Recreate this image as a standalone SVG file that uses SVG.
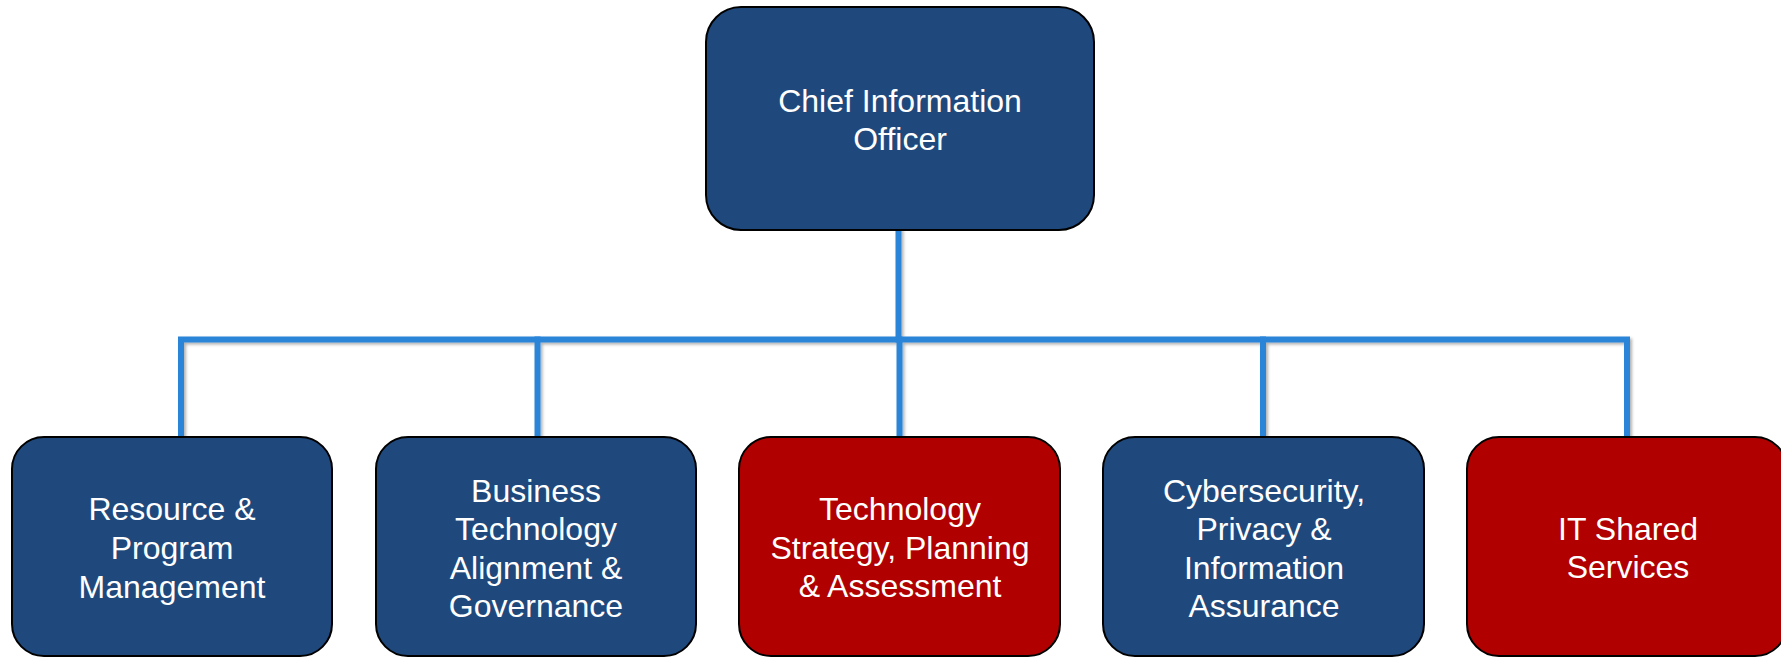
<svg xmlns="http://www.w3.org/2000/svg" width="1781" height="657" viewBox="0 0 1781 657">
<defs>
<style>
.box{stroke:#000;stroke-width:2}
.blue{fill:#1F497D}
.red{fill:#B00000}
.lbl{font-family:"Liberation Sans",Arial,sans-serif;font-size:32px;fill:#fff;text-anchor:middle}
.conn{fill:none;stroke:#2A84D8;stroke-width:6;stroke-linecap:square;stroke-linejoin:miter}
</style>
<filter id="sh" x="-5%" y="-5%" width="110%" height="110%">
<feDropShadow dx="2" dy="2" stdDeviation="1.5" flood-color="#000" flood-opacity="0.3"/>
</filter>
</defs>
<rect width="1781" height="657" fill="#fff"/>
<g id="connectors" filter="url(#sh)">
<path class="conn" d="M898.5 231 V339.5"/>
<path class="conn" d="M181 436 V339.5 H1627 V436"/>
<path class="conn" d="M537.5 339.5 V436"/>
<path class="conn" d="M899.5 339.5 V436"/>
<path class="conn" d="M1263 339.5 V436"/>
</g>
<g id="cio">
<rect class="box blue" x="706" y="7" width="388" height="223" rx="35"/>
<text class="lbl" x="900" y="112">Chief Information</text>
<text class="lbl" x="900" y="150">Officer</text>
</g>
<g id="rpm">
<rect class="box blue" x="12" y="437" width="320" height="219" rx="32"/>
<text class="lbl" x="172" y="520">Resource &amp;</text>
<text class="lbl" x="172" y="559">Program</text>
<text class="lbl" x="172" y="598">Management</text>
</g>
<g id="btag">
<rect class="box blue" x="376" y="437" width="320" height="219" rx="32"/>
<text class="lbl" x="536" y="502">Business</text>
<text class="lbl" x="536" y="540">Technology</text>
<text class="lbl" x="536" y="579">Alignment &amp;</text>
<text class="lbl" x="536" y="617">Governance</text>
</g>
<g id="tspa">
<rect class="box red" x="739" y="437" width="321" height="219" rx="32"/>
<text class="lbl" x="900" y="520">Technology</text>
<text class="lbl" x="900" y="559">Strategy, Planning</text>
<text class="lbl" x="900" y="597">&amp; Assessment</text>
</g>
<g id="cpia">
<rect class="box blue" x="1103" y="437" width="321" height="219" rx="32"/>
<text class="lbl" x="1264" y="502">Cybersecurity,</text>
<text class="lbl" x="1264" y="540">Privacy &amp;</text>
<text class="lbl" x="1264" y="579">Information</text>
<text class="lbl" x="1264" y="617">Assurance</text>
</g>
<g id="itss">
<rect class="box red" x="1467" y="437" width="320" height="219" rx="32"/>
<text class="lbl" x="1628" y="540">IT Shared</text>
<text class="lbl" x="1628" y="578">Services</text>
</g>
</svg>
